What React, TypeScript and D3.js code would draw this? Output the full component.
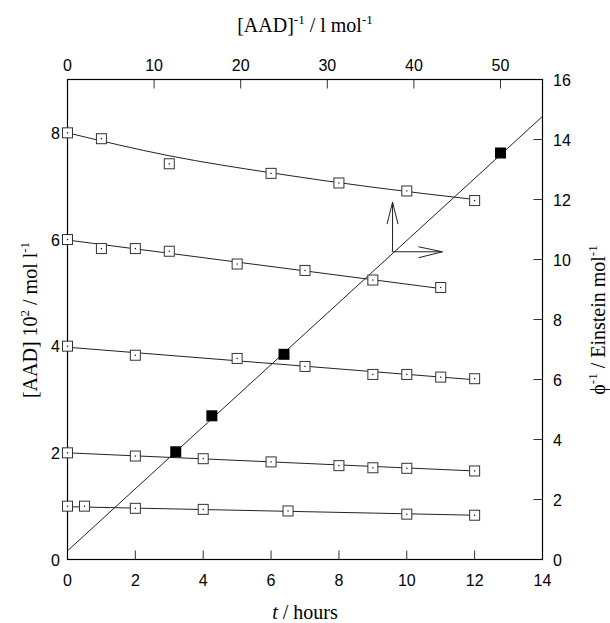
import React from "react";
import * as d3 from "d3";

// ---- Data (bottom axis: t / hours, left axis: [AAD] 10^2 / mol l^-1) ----
const s8T = [0, 1, 3, 6, 8, 10, 12];
const s8V = [8.0, 7.89, 7.42, 7.24, 7.06, 6.91, 6.73];
const s6T = [0, 1, 2, 3, 5, 7, 9, 11];
const s6V = [6.0, 5.83, 5.83, 5.78, 5.54, 5.42, 5.24, 5.1];
const s4T = [0, 2, 5, 7, 9, 10, 11, 12];
const s4V = [4.0, 3.83, 3.77, 3.62, 3.47, 3.47, 3.42, 3.39];
const s2T = [0, 2, 4, 6, 8, 9, 10, 12];
const s2V = [2.0, 1.94, 1.89, 1.83, 1.76, 1.72, 1.71, 1.66];
const s1T = [0, 0.5, 2, 4, 6.5, 10, 12];
const s1V = [1.0, 1.0, 0.96, 0.94, 0.91, 0.85, 0.83];

// fitted curves
const fit8T = [0, 3, 6, 9, 12];
const fit8V = [8.0, 7.57, 7.25, 6.98, 6.75];
const fit6T = [0, 11];
const fit6V = [5.99, 5.08];
const fit4T = [0, 12];
const fit4V = [3.98, 3.37];
const fit2T = [0, 12];
const fit2V = [2.0, 1.66];
const fit1T = [0, 12];
const fit1V = [0.99, 0.83];

// top axis: [AAD]^-1 / l mol^-1, right axis: phi^-1 / Einstein mol^-1
const invAAD = [12.5, 16.67, 25, 50];
const invPhi = [3.59, 4.79, 6.84, 13.55];
const phiFitX = [0, 54.85];
const phiFitY = [0.29, 14.77];

const bottomTicks = [0, 2, 4, 6, 8, 10, 12, 14];
const topTicks = [0, 10, 20, 30, 40, 50];
const leftTicks = [0, 2, 4, 6, 8];
const rightTicks = [0, 2, 4, 6, 8, 10, 12, 14, 16];

// arrow annotation (data coords on t / [AAD] axes)
const arrowOrigin = [9.58, 5.77];
const arrowUpTip = 6.7;
const arrowRightTip = 11.05;

const W = 610;
const H = 623;
const L = 67.5;
const R = 542.5;
const T = 79.5;
const B = 559.5;

const x = d3.scaleLinear().domain([0, 14]).range([L, R]);
const xTop = d3.scaleLinear().domain([0, 54.85]).range([L, R]);
const yL = d3.scaleLinear().domain([0, 9]).range([B, T]);
const yR = d3.scaleLinear().domain([0, 16]).range([B, T]);

const sans = "'Liberation Sans', Arial, sans-serif";
const serif = "'Liberation Serif', 'Times New Roman', serif";

const series = [
  { t: s8T, v: s8V, ft: fit8T, fv: fit8V },
  { t: s6T, v: s6V, ft: fit6T, fv: fit6V },
  { t: s4T, v: s4V, ft: fit4T, fv: fit4V },
  { t: s2T, v: s2V, ft: fit2T, fv: fit2V },
  { t: s1T, v: s1V, ft: fit1T, fv: fit1V },
];

export default function App() {
  const lineGen = d3
    .line<[number, number]>()
    .x((d) => x(d[0]))
    .y((d) => yL(d[1]))
    .curve(d3.curveMonotoneX);
  const phiLine = d3
    .line<[number, number]>()
    .x((d) => xTop(d[0]))
    .y((d) => yR(d[1]));

  const ax = x(arrowOrigin[0]);
  const ay = yL(arrowOrigin[1]);
  const upY = yL(arrowUpTip);
  const rtX = x(arrowRightTip);

  const supSize = 13;
  const supDy = 8;

  return (
    <svg
      width={W}
      height={H}
      style={{ position: "absolute", left: 0, top: 0, background: "#fff" }}
    >
      <rect x={0} y={0} width={W} height={H} fill="#fff" />
      <defs>
        <clipPath id="plot">
          <rect x={L} y={T} width={R - L} height={B - T} />
        </clipPath>
      </defs>

      {/* fitted lines */}
      <g clipPath="url(#plot)" fill="none" stroke="#222" strokeWidth={1}>
        {series.map((s, i) => (
          <path
            key={i}
            d={lineGen(s.ft.map((t, j) => [t, s.fv[j]] as [number, number])) || ""}
          />
        ))}
        <path
          d={phiLine(phiFitX.map((v, j) => [v, phiFitY[j]] as [number, number])) || ""}
        />
      </g>

      {/* frame */}
      <rect
        x={L}
        y={T}
        width={R - L}
        height={B - T}
        fill="none"
        stroke="#000"
        strokeWidth={1.2}
      />

      {/* ticks */}
      <g stroke="#333" strokeWidth={1}>
        {bottomTicks.slice(1, -1).map((t) => (
          <line key={"b" + t} x1={x(t)} x2={x(t)} y1={B} y2={B - 9} />
        ))}
        {topTicks.slice(1).map((t) => (
          <line key={"t" + t} x1={xTop(t)} x2={xTop(t)} y1={T} y2={T + 9} />
        ))}
        {rightTicks.slice(1, -1).map((t) => (
          <line key={"r" + t} x1={R} x2={R - 9} y1={yR(t)} y2={yR(t)} />
        ))}
      </g>

      {/* tick labels */}
      <g fontFamily={sans} fontSize={16} fill="#000">
        {bottomTicks.map((t) => (
          <text key={"bl" + t} x={x(t)} y={586} textAnchor="middle">
            {t}
          </text>
        ))}
        {topTicks.map((t) => (
          <text key={"tl" + t} x={xTop(t)} y={71} textAnchor="middle">
            {t}
          </text>
        ))}
        {leftTicks.map((t) => (
          <text key={"ll" + t} x={60} y={yL(t) + 6} textAnchor="end">
            {t}
          </text>
        ))}
        {rightTicks.map((t) => (
          <text key={"rl" + t} x={553} y={yR(t) + 6} textAnchor="start">
            {t}
          </text>
        ))}
      </g>

      {/* open square markers */}
      <g>
        {series.map((s, i) =>
          s.t.map((t, j) => (
            <g key={i + "-" + j}>
              <rect
                x={x(t) - 5}
                y={yL(s.v[j]) - 5}
                width={10}
                height={10}
                fill="#fff"
                stroke="#333"
                strokeWidth={1}
              />
              <rect x={x(t) - 0.6} y={yL(s.v[j]) - 0.6} width={1.2} height={1.2} fill="#000" />
            </g>
          ))
        )}
      </g>

      {/* filled squares */}
      <g fill="#000">
        {invAAD.map((v, j) => (
          <rect
            key={"f" + j}
            x={xTop(v) - 5.5}
            y={yR(invPhi[j]) - 5.5}
            width={11}
            height={11}
          />
        ))}
      </g>

      {/* arrows */}
      <g fill="none" stroke="#222" strokeWidth={1}>
        <line x1={ax} y1={ay} x2={ax} y2={upY} />
        <polyline points={`${ax - 5.5},${upY + 22} ${ax},${upY} ${ax + 5.5},${upY + 22}`} />
        <line x1={ax} y1={ay} x2={rtX} y2={ay} />
        <polyline points={`${rtX - 24},${ay - 5} ${rtX},${ay} ${rtX - 24},${ay + 6}`} />
      </g>

      {/* axis titles */}
      <g fontFamily={serif} fontSize={20} fill="#000">
        <text x={305} y={32} textAnchor="middle">
          [AAD]
          <tspan dy={-supDy} fontSize={supSize}>-1</tspan>
          <tspan dy={supDy}> / l mol</tspan>
          <tspan dy={-supDy} fontSize={supSize}>-1</tspan>
        </text>
        <text x={305} y={619} textAnchor="middle">
          <tspan fontStyle="italic">t</tspan> / hours
        </text>
        <text transform="translate(37,320) rotate(-90)" textAnchor="middle">
          [AAD] 10
          <tspan dy={-supDy} fontSize={supSize}>2</tspan>
          <tspan dy={supDy}> / mol l</tspan>
          <tspan dy={-supDy} fontSize={supSize}>-1</tspan>
        </text>
        <text transform="translate(605,320) rotate(-90)" textAnchor="middle">
          ϕ
          <tspan dy={-supDy} fontSize={supSize}>-1</tspan>
          <tspan dy={supDy}> / Einstein mol</tspan>
          <tspan dy={-supDy} fontSize={supSize}>-1</tspan>
        </text>
      </g>
    </svg>
  );
}
